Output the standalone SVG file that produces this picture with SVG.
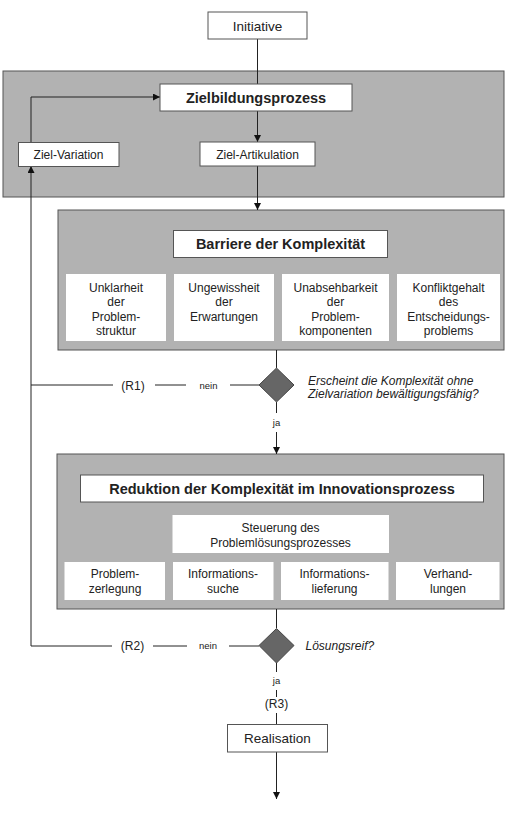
<svg xmlns="http://www.w3.org/2000/svg" width="507" height="814" viewBox="0 0 507 814">
<style>
.panel{fill:#b2b2b2;stroke:#555;stroke-width:1}
.box{fill:#fff;stroke:#555;stroke-width:1}
.wbox{fill:#fff;stroke:none}
.dia{fill:#666;stroke:#444;stroke-width:1}
.ln{fill:none;stroke:#222;stroke-width:1}
.t{font-family:"Liberation Sans",Arial,sans-serif;fill:#222;text-anchor:middle}
.r{font-size:12px}
.m{font-size:13.5px}
.b{font-size:14.5px;font-weight:bold}
.s{font-size:9.5px}
.q{font-family:"Liberation Sans",Arial,sans-serif;fill:#222;font-size:12px;font-style:italic}
</style>
<defs>
<marker id="ah" viewBox="0 0 10 10" refX="10" refY="5" markerWidth="7" markerHeight="7" markerUnits="userSpaceOnUse" orient="auto">
<path d="M0,0 L10,5 L0,10 z" fill="#111"/>
</marker>
</defs>

<g id="panels">
<rect id="panel-ziel" class="panel" x="3" y="71" width="501" height="126"/>
<rect id="panel-barriere" class="panel" x="58" y="210" width="446" height="140"/>
<rect id="panel-reduktion" class="panel" x="57" y="454" width="447" height="155"/>
</g>

<g id="connectors">
<line class="ln" x1="257.5" y1="39" x2="257.5" y2="84"/>
<line class="ln" x1="257.5" y1="111" x2="257.5" y2="142" marker-end="url(#ah)"/>
<line class="ln" x1="257.5" y1="166" x2="257.5" y2="210" marker-end="url(#ah)"/>
<polyline class="ln" points="31,142 31,97 160,97" marker-end="url(#ah)"/>
<line class="ln" x1="31" y1="646" x2="31" y2="166" marker-end="url(#ah)"/>
<line class="ln" x1="276.5" y1="350" x2="276.5" y2="368"/>
<line class="ln" x1="31" y1="385" x2="113" y2="385"/>
<line class="ln" x1="155" y1="385" x2="186" y2="385"/>
<line class="ln" x1="230" y1="385" x2="259" y2="385"/>
<line class="ln" x1="276.5" y1="402" x2="276.5" y2="413"/>
<line class="ln" x1="276.5" y1="432" x2="276.5" y2="454" marker-end="url(#ah)"/>
<line class="ln" x1="276.5" y1="609" x2="276.5" y2="628"/>
<line class="ln" x1="31" y1="646" x2="112" y2="646"/>
<line class="ln" x1="153" y1="646" x2="187" y2="646"/>
<line class="ln" x1="229" y1="646" x2="259" y2="646"/>
<line class="ln" x1="276.5" y1="663" x2="276.5" y2="672"/>
<line class="ln" x1="276.5" y1="690" x2="276.5" y2="697"/>
<line class="ln" x1="276.5" y1="713" x2="276.5" y2="724"/>
<line class="ln" x1="276.5" y1="752" x2="276.5" y2="799" marker-end="url(#ah)"/>
</g>

<g id="n-initiative">
<rect class="box" x="208" y="12" width="99" height="27"/>
<text class="t m" x="257.5" y="30.5">Initiative</text>
</g>
<g id="n-zielbildung">
<rect class="box" x="160" y="84" width="192" height="27"/>
<text class="t b" x="256" y="102.5">Zielbildungsprozess</text>
</g>
<g id="n-zielvariation">
<rect class="box" x="18.5" y="142.5" width="100.5" height="24"/>
<text class="t r" x="68.5" y="158.5">Ziel-Variation</text>
</g>
<g id="n-zielartikulation">
<rect class="box" x="200" y="142" width="115" height="24"/>
<text class="t r" x="257.5" y="158.5">Ziel-Artikulation</text>
</g>

<g id="n-barriere">
<rect class="box" x="173.5" y="230.5" width="214" height="27"/>
<text class="t b" x="280.5" y="249">Barriere der Komplexität</text>
</g>
<g id="n-unklarheit">
<rect class="wbox" x="66" y="274" width="100" height="67"/>
<text class="t r" x="116" y="291.5">Unklarheit</text>
<text class="t r" x="116" y="306">der</text>
<text class="t r" x="116" y="320.5">Problem-</text>
<text class="t r" x="116" y="334.5">struktur</text>
</g>
<g id="n-ungewissheit">
<rect class="wbox" x="174" y="274" width="100" height="67"/>
<text class="t r" x="224" y="291.5">Ungewissheit</text>
<text class="t r" x="224" y="306">der</text>
<text class="t r" x="224" y="320.5">Erwartungen</text>
</g>
<g id="n-unabsehbarkeit">
<rect class="wbox" x="282" y="274" width="107" height="67"/>
<text class="t r" x="335.5" y="291.5">Unabsehbarkeit</text>
<text class="t r" x="335.5" y="306">der</text>
<text class="t r" x="335.5" y="320.5">Problem-</text>
<text class="t r" x="335.5" y="334.5">komponenten</text>
</g>
<g id="n-konfliktgehalt">
<rect class="wbox" x="397" y="274" width="103" height="67"/>
<text class="t r" x="448.5" y="291.5">Konfliktgehalt</text>
<text class="t r" x="448.5" y="306">des</text>
<text class="t r" x="448.5" y="320.5">Entscheidungs-</text>
<text class="t r" x="448.5" y="334.5">problems</text>
</g>

<g id="n-decision1">
<polygon class="dia" points="276.5,368 294,385 276.5,402 259,385"/>
<text class="q" x="308" y="384.5">Erscheint die Komplexität ohne</text>
<text class="q" x="308" y="397.5">Zielvariation bewältigungsfähig?</text>
</g>
<g id="lbl-r1">
<text class="t r" x="133" y="389.5">(R1)</text>
<text class="t s" x="208.5" y="388.5">nein</text>
<text class="t s" x="276.5" y="426">ja</text>
</g>

<g id="n-reduktion">
<rect class="box" x="80.5" y="475" width="403" height="27"/>
<text class="t b" x="282" y="493.5">Reduktion der Komplexität im Innovationsprozess</text>
</g>
<g id="n-steuerung">
<rect class="wbox" x="172.5" y="515" width="216.5" height="38"/>
<text class="t r" x="280.5" y="532">Steuerung des</text>
<text class="t r" x="280.5" y="546.5">Problemlösungsprozesses</text>
</g>
<g id="n-problemzerlegung">
<rect class="wbox" x="64.5" y="562" width="100.5" height="38"/>
<text class="t r" x="115" y="578">Problem-</text>
<text class="t r" x="115" y="593">zerlegung</text>
</g>
<g id="n-informationssuche">
<rect class="wbox" x="173" y="562" width="100.5" height="38"/>
<text class="t r" x="223" y="578">Informations-</text>
<text class="t r" x="223" y="593">suche</text>
</g>
<g id="n-informationslieferung">
<rect class="wbox" x="281" y="562" width="107.5" height="38"/>
<text class="t r" x="334.5" y="578">Informations-</text>
<text class="t r" x="334.5" y="593">lieferung</text>
</g>
<g id="n-verhandlungen">
<rect class="wbox" x="396" y="562" width="103.5" height="38"/>
<text class="t r" x="448" y="578">Verhand-</text>
<text class="t r" x="448" y="593">lungen</text>
</g>

<g id="n-decision2">
<polygon class="dia" points="276.5,628.5 294,645.5 276.5,663 259,645.5"/>
<text class="q" x="305.5" y="649.5">Lösungsreif?</text>
</g>
<g id="lbl-r2">
<text class="t r" x="132.5" y="650">(R2)</text>
<text class="t s" x="208" y="649">nein</text>
<text class="t s" x="276.5" y="684">ja</text>
<text class="t r" x="276.5" y="707.5">(R3)</text>
</g>

<g id="n-realisation">
<rect class="box" x="227.5" y="724.5" width="100" height="27.5"/>
<text class="t m" x="277.5" y="743">Realisation</text>
</g>
</svg>
